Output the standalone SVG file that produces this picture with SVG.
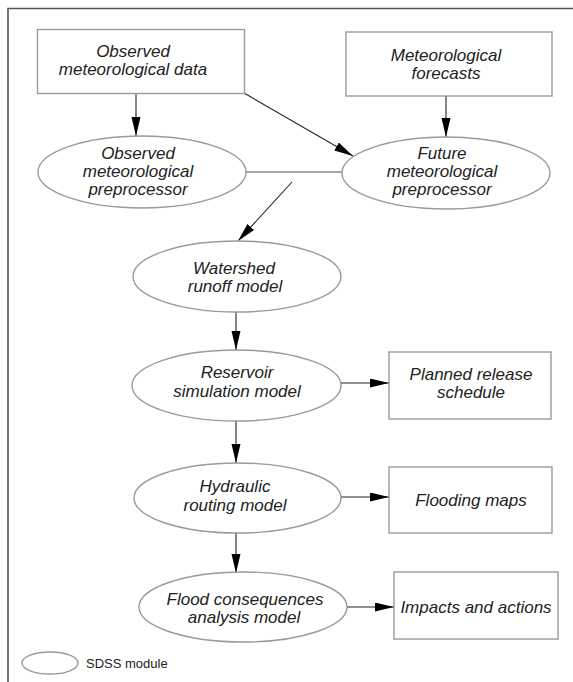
<svg xmlns="http://www.w3.org/2000/svg" width="573" height="682" viewBox="0 0 573 682">
<style>
.node{fill:#fff;stroke:#9a9a9a;stroke-width:1.4}
.t{font-family:"Liberation Sans",Arial,sans-serif;font-size:17px;font-style:italic;fill:#222;text-anchor:middle}
.lg{font-family:"Liberation Sans",Arial,sans-serif;font-size:13px;fill:#222}
.c{stroke:#222;stroke-width:1.1;fill:none}
.plain{stroke:#8a8a8a;stroke-width:1.6;fill:none}
.frame{stroke:#555;stroke-width:1.6;fill:none}
</style>
<defs>
<marker id="ah" markerUnits="userSpaceOnUse" markerWidth="20" markerHeight="10" refX="19" refY="4.5" orient="auto">
<path d="M0,0 L19,4.5 L0,9 z" fill="#000"/>
</marker>
</defs>
<rect width="573" height="682" fill="#fff"/>
<path class="frame" d="M8,682 V8.5 H573"/>

<g id="connectors">
<line class="c" x1="136" y1="93" x2="136" y2="136" marker-end="url(#ah)"/>
<line class="c" x1="446" y1="96" x2="446" y2="137" marker-end="url(#ah)"/>
<line class="c" x1="244" y1="93" x2="353" y2="156" marker-end="url(#ah)"/>
<line class="plain" x1="246" y1="172" x2="342" y2="172"/>
<line class="c" x1="292" y1="182" x2="238" y2="241" marker-end="url(#ah)"/>
<line class="c" x1="236" y1="312" x2="236" y2="350" marker-end="url(#ah)"/>
<line class="c" x1="236" y1="421" x2="236" y2="463" marker-end="url(#ah)"/>
<line class="c" x1="236" y1="533" x2="236" y2="573" marker-end="url(#ah)"/>
<line class="c" x1="341" y1="383" x2="389" y2="383" marker-end="url(#ah)"/>
<line class="c" x1="341" y1="497" x2="389" y2="497" marker-end="url(#ah)"/>
<line class="c" x1="347" y1="607" x2="394" y2="607" marker-end="url(#ah)"/>
</g>

<g id="observed-data">
<rect class="node" x="37.5" y="29.5" width="207" height="64"/>
<text class="t" x="133" y="57">Observed</text>
<text class="t" x="133" y="75">meteorological data</text>
</g>

<g id="forecasts">
<rect class="node" x="346" y="32" width="206" height="64"/>
<text class="t" x="446" y="61">Meteorological</text>
<text class="t" x="446" y="79">forecasts</text>
</g>

<g id="observed-preprocessor">
<ellipse class="node" cx="142" cy="172" rx="104" ry="36"/>
<text class="t" x="138" y="159">Observed</text>
<text class="t" x="138" y="177">meteorological</text>
<text class="t" x="138" y="195">preprocessor</text>
</g>

<g id="future-preprocessor">
<ellipse class="node" cx="446" cy="173" rx="104" ry="36"/>
<text class="t" x="442" y="159">Future</text>
<text class="t" x="442" y="177">meteorological</text>
<text class="t" x="442" y="195">preprocessor</text>
</g>

<g id="watershed">
<ellipse class="node" cx="237" cy="276.5" rx="104" ry="35.5"/>
<text class="t" x="234" y="274">Watershed</text>
<text class="t" x="235" y="292">runoff model</text>
</g>

<g id="reservoir">
<ellipse class="node" cx="236.5" cy="385.5" rx="104.5" ry="35.5"/>
<text class="t" x="237" y="378">Reservoir</text>
<text class="t" x="237" y="397">simulation model</text>
</g>

<g id="planned-release">
<rect class="node" x="389" y="352" width="162" height="67"/>
<text class="t" x="471" y="380">Planned release</text>
<text class="t" x="471" y="398">schedule</text>
</g>

<g id="hydraulic">
<ellipse class="node" cx="237.5" cy="498" rx="103.5" ry="35"/>
<text class="t" x="235" y="492">Hydraulic</text>
<text class="t" x="235" y="511">routing model</text>
</g>

<g id="flooding-maps">
<rect class="node" x="389" y="467" width="163" height="66"/>
<text class="t" x="471" y="506">Flooding maps</text>
</g>

<g id="flood-consequences">
<ellipse class="node" cx="243" cy="607" rx="104" ry="35"/>
<text class="t" x="245" y="605">Flood consequences</text>
<text class="t" x="244" y="623">analysis model</text>
</g>

<g id="impacts">
<rect class="node" x="394" y="572" width="164" height="67"/>
<text class="t" x="476" y="613">Impacts and actions</text>
</g>

<g id="legend">
<ellipse class="node" cx="50" cy="663" rx="28" ry="11"/>
<text class="lg" x="86" y="668">SDSS module</text>
</g>
</svg>
